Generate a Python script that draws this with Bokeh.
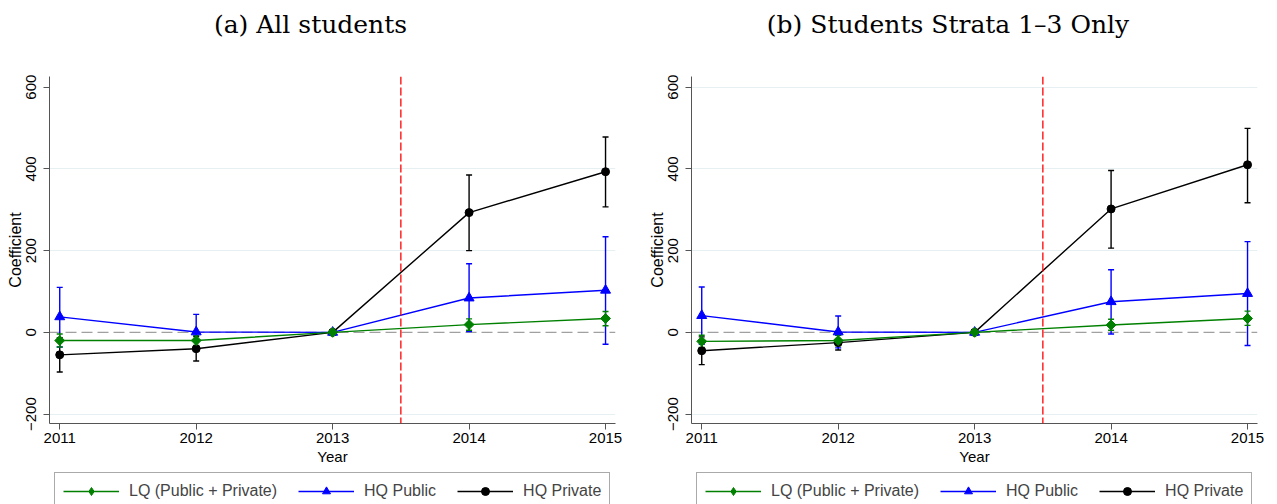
import math
from bokeh.plotting import figure
from bokeh.models import (Range1d, FixedTicker, Span, Whisker, TeeHead, ColumnDataSource,
                          Legend, LegendItem, Label)
from bokeh.layouts import row, column
from bokeh.embed import file_html
from bokeh.resources import INLINE

# ---------------- data ----------------
years = [2011, 2012, 2013, 2014, 2015]
y_ticks = [-200, 0, 200, 400, 600]
series_names = ["LQ (Public + Private)", "HQ Public", "HQ Private"]
titles = ["(a) All students", "(b) Students Strata 1\u20133 Only"]
x_title = "Year"
y_title = "Coefficient"
event_year = 2013.5

# Panel (a) All students
a_lq = [-20, -20, 0, 19, 34]
a_lq_lo = [-36, -32, 0, 5, 16]
a_lq_hi = [-4, -8, 0, 33, 51]
a_hqpub = [38, 1, 0, 84, 103]
a_hqpub_lo = [-36, -42, 0, 2, -29]
a_hqpub_hi = [110, 44, 0, 168, 234]
a_hqpriv = [-55, -40, 0, 293, 393]
a_hqpriv_lo = [-97, -70, 0, 200, 307]
a_hqpriv_hi = [-13, -10, 0, 385, 478]

# Panel (b) Students Strata 1-3 only
b_lq = [-22, -20, 0, 18, 34]
b_lq_lo = [-37, -33, 0, 5, 17]
b_lq_hi = [-7, -7, 0, 32, 52]
b_hqpub = [41, 1, 0, 75, 95]
b_hqpub_lo = [-29, -38, 0, -4, -32]
b_hqpub_hi = [111, 40, 0, 153, 222]
b_hqpriv = [-45, -25, 0, 302, 410]
b_hqpriv_lo = [-79, -43, 0, 206, 317]
b_hqpriv_hi = [-11, -7, 0, 396, 499]

# ---------------- styles ----------------
GREEN = "#008000"
BLUE = "#0000ff"
BLACK = "#000000"
AXIS = "#555555"
SANS = "Liberation Sans"
SERIF = "DejaVu Serif"

FRAME_W = 566
FRAME_H = 347
TITLE_H = 48
MAIN_H = 424
LEG_H = 32
TOP = 28
LEFT = 49

STYLE = {
    GREEN: ("square", 7, math.pi / 4),
    BLUE: ("triangle", 10, 0),
    BLACK: ("circle", 8, 0),
}
LEGEND_STYLE = {
    GREEN: ("diamond", 13, 0),
    BLUE: ("triangle", 10, 0),
    BLACK: ("circle", 8, 0),
}


def bare_figure(width, height):
    f = figure(width=width, height=height, output_backend="svg", toolbar_location=None,
               x_range=Range1d(0, 1), y_range=Range1d(0, 1),
               min_border_left=0, min_border_right=0, min_border_top=0,
               min_border_bottom=0)
    f.axis.visible = False
    f.grid.visible = False
    f.outline_line_color = None
    f.border_fill_color = "white"
    return f


def make_title_fig(width, text, center_x):
    tf = bare_figure(width, TITLE_H)
    tf.add_layout(Label(x=center_x, y=TITLE_H - 24, x_units="screen", y_units="screen",
                        text=text, text_align="center", text_baseline="middle",
                        text_font=SERIF, text_font_size="25px", text_color="black"))
    return tf


def make_panel(lq, lq_lo, lq_hi, pub, pub_lo, pub_hi, priv, priv_lo, priv_hi,
               grid_ticks, width):
    p = figure(width=width, height=MAIN_H, output_backend="svg", toolbar_location=None,
               x_range=Range1d(2010.925, 2015.073), y_range=Range1d(-223, 626),
               min_border_left=LEFT, min_border_right=width - LEFT - FRAME_W,
               min_border_top=TOP, min_border_bottom=MAIN_H - TOP - FRAME_H)
    p.outline_line_color = None
    p.background_fill_color = "white"
    p.border_fill_color = "white"

    # axes
    p.xaxis.ticker = FixedTicker(ticks=years)
    p.yaxis.ticker = FixedTicker(ticks=y_ticks)
    for ax in (p.xaxis[0], p.yaxis[0]):
        ax.axis_line_color = AXIS
        ax.axis_line_width = 1
        ax.major_tick_line_color = AXIS
        ax.major_tick_out = 6
        ax.major_tick_in = 0
        ax.minor_tick_line_color = None
        ax.major_label_text_font = SANS
        ax.major_label_text_font_size = "15px"
        ax.major_label_text_color = "black"
        ax.axis_label_text_font = SANS
        ax.axis_label_text_font_style = "normal"
        ax.axis_label_text_color = "black"
    p.xaxis.major_label_standoff = 3
    p.yaxis.major_label_standoff = 7
    p.yaxis.major_label_orientation = "vertical"
    p.xaxis.axis_label = x_title
    p.xaxis.axis_label_text_font_size = "15px"
    p.xaxis.axis_label_standoff = 2
    p.yaxis.axis_label = y_title
    p.yaxis.axis_label_text_font_size = "16px"
    p.yaxis.axis_label_standoff = 0

    # grid
    p.xgrid.grid_line_color = None
    p.ygrid.ticker = FixedTicker(ticks=grid_ticks)
    p.ygrid.grid_line_color = "#e6eff1"
    p.ygrid.grid_line_width = 1

    # reference lines
    p.add_layout(Span(location=0, dimension="width", line_color="#a0a0a0",
                      line_width=1.3, line_dash="11 5", level="underlay"))
    p.add_layout(Span(location=event_year, dimension="height", line_color="#ff0000",
                      line_width=1.3, line_dash="8 3"))

    specs = [
        (priv, priv_lo, priv_hi, BLACK),
        (pub, pub_lo, pub_hi, BLUE),
        (lq, lq_lo, lq_hi, GREEN),
    ]
    for (vals, lo, hi, col) in specs:
        mk, sz, ang = STYLE[col]
        src = ColumnDataSource(dict(x=years, y=vals, lo=lo, hi=hi))
        p.add_layout(Whisker(source=src, base="x", upper="hi", lower="lo",
                             dimension="height", line_color=col, line_width=1.4,
                             upper_head=TeeHead(size=6, line_color=col, line_width=1.4),
                             lower_head=TeeHead(size=6, line_color=col, line_width=1.4)))
        p.line("x", "y", source=src, line_color=col, line_width=1.4)
        p.scatter("x", "y", source=src, marker=mk, size=sz, angle=ang,
                  fill_color=col, line_color=col)
    return p


def make_legend_fig(width, x_off):
    lf = bare_figure(width, LEG_H)
    items = []
    for name, col in zip(series_names, [GREEN, BLUE, BLACK]):
        mk, sz, ang = LEGEND_STYLE[col]
        # legend-only renderers (no visible data)
        dummy = ColumnDataSource(dict(x=[float("nan")], y=[float("nan")]))
        ln = lf.line("x", "y", source=dummy, line_color=col, line_width=1.4)
        sc = lf.scatter("x", "y", source=dummy, marker=mk, size=sz, angle=ang,
                        fill_color=col, line_color=col)
        items.append(LegendItem(label=name, renderers=[ln, sc]))
    legend = Legend(items=items, orientation="horizontal", location=(x_off, -6),
                    glyph_width=56, glyph_height=20, label_standoff=10, spacing=21,
                    padding=8, margin=0, border_line_color=AXIS, border_line_width=1,
                    label_text_font=SANS, label_text_font_size="16px",
                    background_fill_color="white", background_fill_alpha=1)
    lf.add_layout(legend)
    return lf


t1 = make_title_fig(642, titles[0], 310)
t2 = make_title_fig(635, titles[1], 305.5)
p1 = make_panel(a_lq, a_lq_lo, a_lq_hi, a_hqpub, a_hqpub_lo, a_hqpub_hi,
                a_hqpriv, a_hqpriv_lo, a_hqpriv_hi, [-200, 200, 400], 642)
p2 = make_panel(b_lq, b_lq_lo, b_lq_hi, b_hqpub, b_hqpub_lo, b_hqpub_hi,
                b_hqpriv, b_hqpriv_lo, b_hqpriv_hi, [-200, 200, 400, 600], 635)
l1 = make_legend_fig(642, 54)
l2 = make_legend_fig(635, 54)

layout = column(row(t1, t2), row(p1, p2), row(l1, l2))
open("out.html", "w").write(file_html(layout, INLINE))
